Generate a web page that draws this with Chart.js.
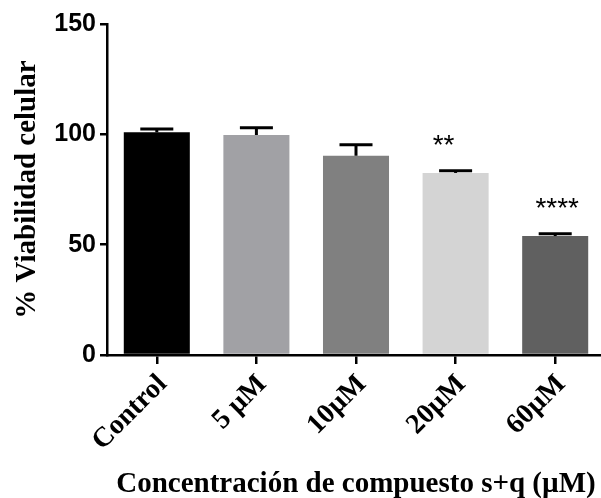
<!DOCTYPE html>
<html><head><meta charset="utf-8">
<script src="https://cdn.jsdelivr.net/npm/chart.js@4"></script>
<style>html,body{margin:0;padding:0;background:#fff;overflow:hidden;width:601px;height:498px}
#wrap{width:605px;height:498px;position:relative}</style>
</head><body><div id="wrap"><canvas id="c"></canvas></div>
<script>
const categories = ["Control", "5 µM", "10µM", "20µM", "60µM"];
const viability = [100.9, 99.7, 90.3, 82.5, 53.9];
const errorUpper = [1.5, 3.3, 5.0, 1.0, 1.1];
const significance = ["", "", "", "**", "****"];
const barColors = ["#000000", "#a1a1a5", "#808080", "#d4d4d4", "#606060"];
const yTicks = [0, 50, 100, 150];

const errorPlugin = {
  id: 'errbars',
  afterDatasetsDraw(chart) {
    const ctx = chart.ctx;
    const meta = chart.getDatasetMeta(0);
    const y = chart.scales.y;
    ctx.save();
    ctx.strokeStyle = '#000';
    ctx.fillStyle = '#000';
    meta.data.forEach((bar, i) => {
      const top = y.getPixelForValue(viability[i]);
      const cap = y.getPixelForValue(viability[i] + errorUpper[i]);
      const half = bar.width / 4;
      ctx.lineWidth = 3;
      ctx.beginPath();
      ctx.moveTo(bar.x, top);
      ctx.lineTo(bar.x, cap);
      ctx.stroke();
      ctx.beginPath();
      ctx.moveTo(bar.x - half, cap);
      ctx.lineTo(bar.x + half, cap);
      ctx.stroke();
      if (significance[i]) {
        ctx.font = '28px "Liberation Sans", Arial, sans-serif';
        ctx.textAlign = 'center';
        ctx.textBaseline = 'alphabetic';
        const dx = significance[i].length === 2 ? -12 : 2;
        ctx.fillText(significance[i], bar.x + dx, cap - 17);
      }
    });
    ctx.restore();
  }
};

new Chart(document.getElementById('c'), {
  type: 'bar',
  data: {
    labels: categories,
    datasets: [{
      data: viability,
      backgroundColor: barColors,
      borderColor: barColors,
      borderWidth: 0,
      categoryPercentage: 1.0,
      barPercentage: 0.663
    }]
  },
  options: {
    responsive: true,
    maintainAspectRatio: false,
    animation: false,
    devicePixelRatio: 1,
    layout: { padding: { top: 24, left: 0, right: 0, bottom: 0 } },
    plugins: { legend: { display: false }, tooltip: { enabled: false } },
    scales: {
      x: {
        offset: true,
        grid: { display: true, drawOnChartArea: false, offset: false, tickLength: 9, lineWidth: 2.5, color: '#000' },
        border: { display: true, width: 2.5, color: '#000' },
        ticks: {
          color: '#000', minRotation: 45, maxRotation: 45, padding: 4, labelOffset: 6,
          font: { family: '"Liberation Serif", "Times New Roman", serif', size: 28, weight: 'bold' }
        },
        title: {
          display: true, text: 'Concentración de compuesto s+q (µM)', color: '#000',
          font: { family: '"Liberation Serif", "Times New Roman", serif', size: 29, weight: 'bold' },
          padding: { top: 0, bottom: -4 }
        },
        afterFit(scale) { scale.height = 143; }
      },
      y: {
        min: 0, max: 150,
        afterBuildTicks(scale) { scale.ticks = yTicks.map(v => ({ value: v })); },
        grid: { display: true, drawOnChartArea: false, tickLength: 7, lineWidth: 2.5, color: '#000' },
        border: { display: true, width: 2.5, color: '#000' },
        ticks: {
          color: '#000', padding: 4,
          font: { family: '"Liberation Sans", Arial, sans-serif', size: 25, weight: 'bold' }
        },
        title: {
          display: true, text: '% Viabilidad celular', color: '#000',
          font: { family: '"Liberation Serif", "Times New Roman", serif', size: 29, weight: 'bold' },
          padding: { top: 10, bottom: 0 }
        },
        afterFit(scale) { scale.width = 107; }
      }
    }
  },
  plugins: [errorPlugin]
});
</script></body></html>
